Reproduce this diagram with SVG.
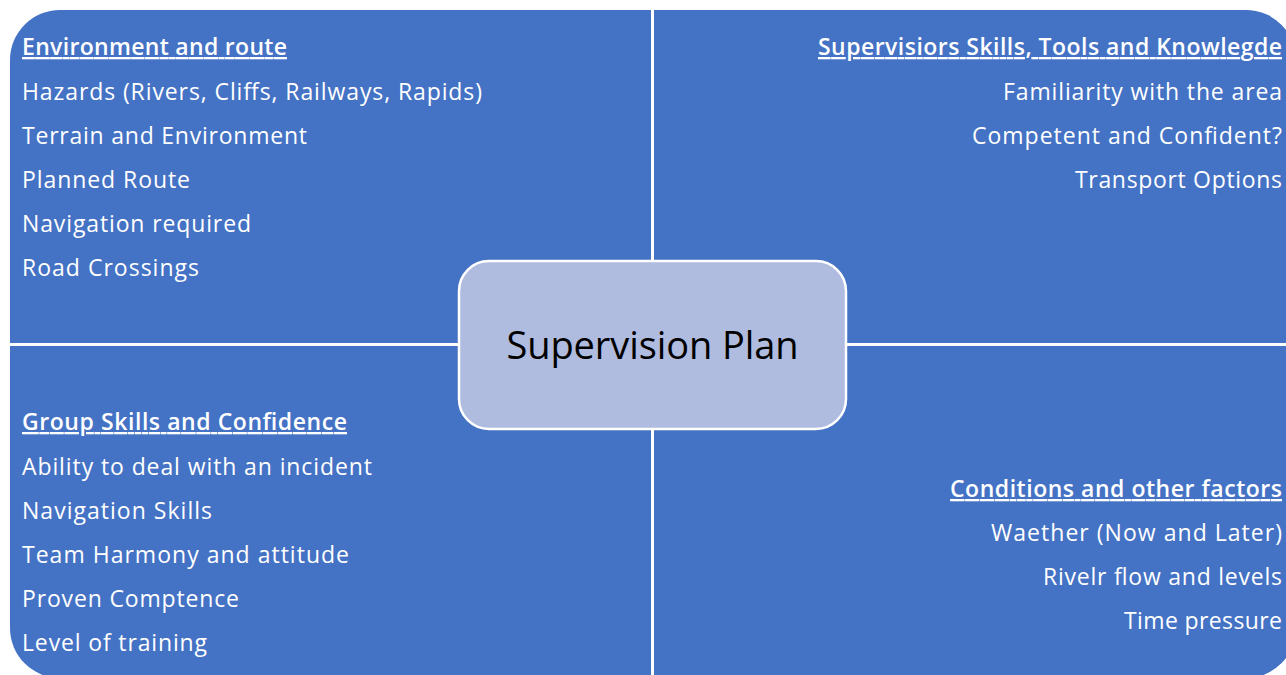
<svg xmlns="http://www.w3.org/2000/svg" width="1286" height="675" viewBox="0 0 1286 675">
<style>
.t{font-family:"Open Sans","Noto Sans",sans-serif;font-size:23px;fill:#ffffff}
.h{font-weight:600;text-decoration:underline}
.r{text-anchor:end}
.c{font-family:"Open Sans","Noto Sans",sans-serif;font-size:38px;fill:#000000;text-anchor:middle}
</style>
<rect width="1286" height="675" fill="#ffffff"/>
<g id="background">
<rect x="10" y="10" width="1286" height="668" rx="50" ry="50" fill="#4472C4"/>
</g>
<g id="connectors" stroke="#ffffff" stroke-width="3">
<line x1="652.5" y1="10" x2="652.5" y2="675"/>
<line x1="10" y1="344.5" x2="1286" y2="344.5"/>
</g>
<g id="q-env">
<text class="t h" x="22" y="55" textLength="265" lengthAdjust="spacing">Environment and route</text>
<text class="t" x="22" y="99.5" textLength="460" lengthAdjust="spacing">Hazards (Rivers, Cliffs, Railways, Rapids)</text>
<text class="t" x="22" y="143.5" textLength="285" lengthAdjust="spacing">Terrain and Environment</text>
<text class="t" x="22" y="187.5" textLength="168" lengthAdjust="spacing">Planned Route</text>
<text class="t" x="22" y="232" textLength="229" lengthAdjust="spacing">Navigation required</text>
<text class="t" x="22" y="276" textLength="177" lengthAdjust="spacing">Road Crossings</text>
</g>
<g id="q-sup">
<text class="t h r" x="1282" y="55" textLength="464" lengthAdjust="spacing">Supervisiors Skills, Tools and Knowlegde</text>
<text class="t r" x="1282" y="99.5" textLength="279" lengthAdjust="spacing">Familiarity with the area</text>
<text class="t r" x="1282" y="143.5" textLength="310" lengthAdjust="spacing">Competent and Confident?</text>
<text class="t r" x="1282" y="187.5" textLength="207" lengthAdjust="spacing">Transport Options</text>
</g>
<g id="q-group">
<text class="t h" x="22" y="430" textLength="325" lengthAdjust="spacing">Group Skills and Confidence</text>
<text class="t" x="22" y="475" textLength="350" lengthAdjust="spacing">Ability to deal with an incident</text>
<text class="t" x="22" y="519" textLength="190" lengthAdjust="spacing">Navigation Skills</text>
<text class="t" x="22" y="563" textLength="327" lengthAdjust="spacing">Team Harmony and attitude</text>
<text class="t" x="22" y="607" textLength="217" lengthAdjust="spacing">Proven Comptence</text>
<text class="t" x="22" y="651" textLength="185" lengthAdjust="spacing">Level of training</text>
</g>
<g id="q-cond">
<text class="t h r" x="1282" y="497" textLength="332" lengthAdjust="spacing">Conditions and other factors</text>
<text class="t r" x="1282" y="541" textLength="291" lengthAdjust="spacing">Waether (Now and Later)</text>
<text class="t r" x="1282" y="585" textLength="239" lengthAdjust="spacing">Rivelr flow and levels</text>
<text class="t r" x="1282" y="629" textLength="158" lengthAdjust="spacing">Time pressure</text>
</g>
<g id="center">
<rect x="459" y="261" width="387" height="168" rx="30" ry="30" fill="#AFBBDF" stroke="#ffffff" stroke-width="2.5"/>
<text class="c" x="652.5" y="359" textLength="292" lengthAdjust="spacing">Supervision Plan</text>
</g>
</svg>
